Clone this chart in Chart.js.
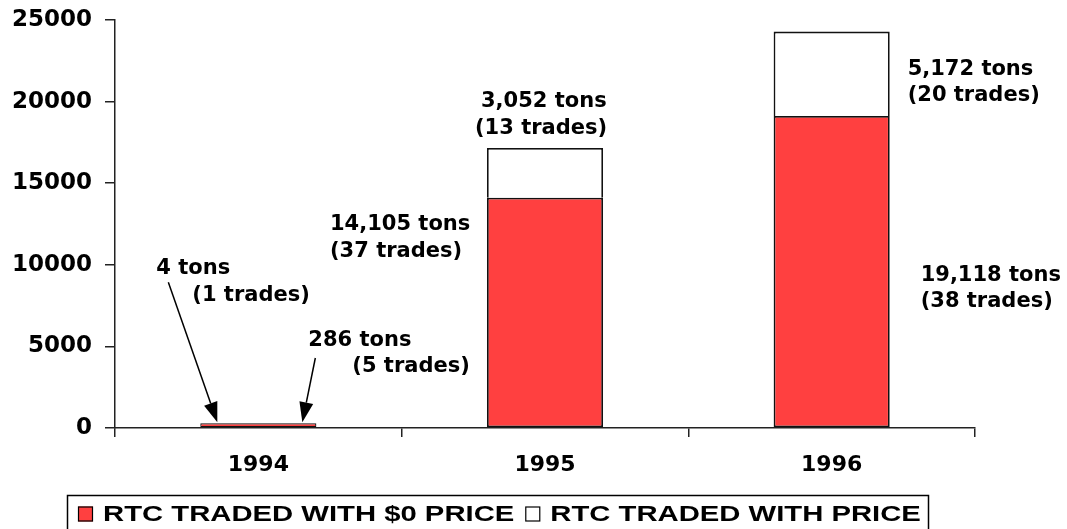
<!DOCTYPE html>
<html>
<head>
<meta charset="utf-8">
<title>RTC Trades</title>
<script src="https://cdn.jsdelivr.net/npm/chart.js@4/dist/chart.umd.min.js"></script>
<style>
    html, body { margin: 0; padding: 0; background: #fff; }
    canvas { display: block; }
</style>
</head>
<body>
<canvas id="rtcChart" width="1067" height="529"></canvas>
<script>
const years = ['1994', '1995', '1996'];
const zeroPriceTons = [286, 14105, 19118];
const zeroPriceTrades = [5, 37, 38];
const pricedTons = [4, 3052, 5172];
const pricedTrades = [1, 13, 20];
const yTicks = [0, 5000, 10000, 15000, 20000, 25000];

const seriesLabels = ['RTC TRADED WITH $0 PRICE', 'RTC TRADED WITH PRICE'];
const seriesColors = ['#ff4040', '#ffffff'];

const boldFont = '"DejaVu Sans", Verdana, sans-serif';

// where each note sits: category index, px offset from bar centre, y in data units
const notes = [
    { i: 0, series: 1, dx: -102, y: 9742, dx2: -66, y2: 8088, arrow: { fromDx: -90, fromY: 8930, toDx: -41 } },
    { i: 0, series: 0, dx: 50, y: 5331, dx2: 94, y2: 3738, arrow: { fromDx: 57, fromY: 4290, toDx: 44 } },
    { i: 1, series: 0, dx: -215, y: 12438, dx2: -215, y2: 10784 },
    { i: 1, series: 1, dx: -64, y: 19975, dx2: -70, y2: 18320 },
    { i: 2, series: 1, dx: 76, y: 21935, dx2: 76, y2: 20342 },
    { i: 2, series: 0, dx: 89, y: 9313, dx2: 89, y2: 7720 }
];

function fmt(n) {
    return n.toLocaleString('en-US');
}

function drawArrow(ctx, x1, y1, x2, y2) {
    const ang = Math.atan2(y2 - y1, x2 - x1);
    const len = 20, half = 7;
    const bx = x2 - len * Math.cos(ang), by = y2 - len * Math.sin(ang);
    ctx.beginPath();
    ctx.moveTo(x1, y1);
    ctx.lineTo(bx, by);
    ctx.lineWidth = 1.5;
    ctx.strokeStyle = '#000';
    ctx.stroke();
    ctx.beginPath();
    ctx.moveTo(x2, y2);
    ctx.lineTo(bx + half * Math.sin(ang), by - half * Math.cos(ang));
    ctx.lineTo(bx - half * Math.sin(ang), by + half * Math.cos(ang));
    ctx.closePath();
    ctx.fillStyle = '#000';
    ctx.fill();
}

const notesPlugin = {
    id: 'notes',
    afterDatasetsDraw(chart) {
        const ctx = chart.ctx;
        const xs = chart.scales.x, ys = chart.scales.y;
        ctx.save();
        ctx.font = 'bold 21px ' + boldFont;
        ctx.fillStyle = '#000';
        ctx.textAlign = 'left';
        ctx.textBaseline = 'middle';
        notes.forEach(n => {
            const tons = n.series === 0 ? zeroPriceTons[n.i] : pricedTons[n.i];
            const trades = n.series === 0 ? zeroPriceTrades[n.i] : pricedTrades[n.i];
            const cx = xs.getPixelForValue(n.i);
            ctx.fillText(fmt(tons) + ' tons', cx + n.dx, ys.getPixelForValue(n.y));
            ctx.fillText('(' + trades + ' trades)', cx + n.dx2, ys.getPixelForValue(n.y2));
            if (n.arrow) {
                const top = ys.getPixelForValue(zeroPriceTons[n.i] + pricedTons[n.i]);
                drawArrow(ctx, cx + n.arrow.fromDx, ys.getPixelForValue(n.arrow.fromY),
                    cx + n.arrow.toDx, top - 1);
            }
        });
        ctx.restore();
    }
};

// boxed legend under the axis, Arial-style text stretched wide
const legendPlugin = {
    id: 'boxLegend',
    afterDraw(chart) {
        const ctx = chart.ctx;
        const stretch = 1.33;
        const cy = 514;
        ctx.save();
        ctx.strokeStyle = '#000';
        ctx.lineWidth = 1.5;
        ctx.strokeRect(67.5, 495.5, 861, 50);
        ctx.font = 'bold 22px "Liberation Sans", Arial, sans-serif';
        ctx.textBaseline = 'middle';
        let x = 78;
        chart.data.datasets.forEach(ds => {
            ctx.fillStyle = ds.backgroundColor;
            ctx.fillRect(x, cy - 7.5, 15, 15);
            ctx.lineWidth = 1.2;
            ctx.strokeRect(x + 0.5, cy - 7, 14, 14);
            x += 25;
            ctx.save();
            ctx.translate(x, cy);
            ctx.scale(stretch, 1);
            ctx.fillStyle = '#000';
            ctx.fillText(ds.label, 0, 1);
            ctx.restore();
            x += ctx.measureText(ds.label).width * stretch + 11;
        });
        ctx.restore();
    }
};

const rtcChart = new Chart(document.getElementById('rtcChart').getContext('2d'), {
    type: 'bar',
    data: {
        labels: years,
        datasets: [{
            label: seriesLabels[0],
            data: zeroPriceTons,
            backgroundColor: seriesColors[0],
            borderColor: '#111',
            borderWidth: ctx => (ctx.raw < 1000 ? 1.2 : 1.8),
            borderSkipped: false
        }, {
            label: seriesLabels[1],
            data: pricedTons,
            backgroundColor: seriesColors[1],
            borderColor: '#111',
            // the 4-ton sliver would only show as a dark smear
            borderWidth: ctx => (ctx.raw < 50 ? 0 : 1.8),
            borderSkipped: 'start'
        }]
    },
    options: {
        responsive: false,
        animation: false,
        layout: { padding: { top: 20, right: 92, bottom: 41, left: 0 } },
        datasets: { bar: { categoryPercentage: 1, barPercentage: 0.405 } },
        plugins: {
            legend: { display: false },
            tooltip: { enabled: false }
        },
        scales: {
            x: {
                stacked: true,
                offset: true,
                grid: { offset: true, drawOnChartArea: false, tickLength: 9, color: '#222', lineWidth: 1.5 },
                border: { color: '#222', width: 1.5 },
                ticks: { color: '#000', padding: 15, font: { family: boldFont, size: 22, weight: 'bold' } },
                afterFit: s => { s.height = 60; }
            },
            y: {
                stacked: true,
                min: 0,
                max: 25000,
                afterBuildTicks: s => { s.ticks = yTicks.map(v => ({ value: v })); },
                grid: { drawOnChartArea: false, tickLength: 10, color: '#222', lineWidth: 1.5 },
                border: { color: '#222', width: 1.5 },
                ticks: {
                    color: '#000',
                    padding: 13,
                    font: { family: boldFont, size: 23, weight: 'bold' },
                    callback: v => String(v)
                },
                afterFit: s => {
                    s.width = 115;
                    s.paddingTop = 0;
                    s.paddingBottom = 0;
                }
            }
        }
    },
    plugins: [notesPlugin, legendPlugin]
});
</script>
</body>
</html>
